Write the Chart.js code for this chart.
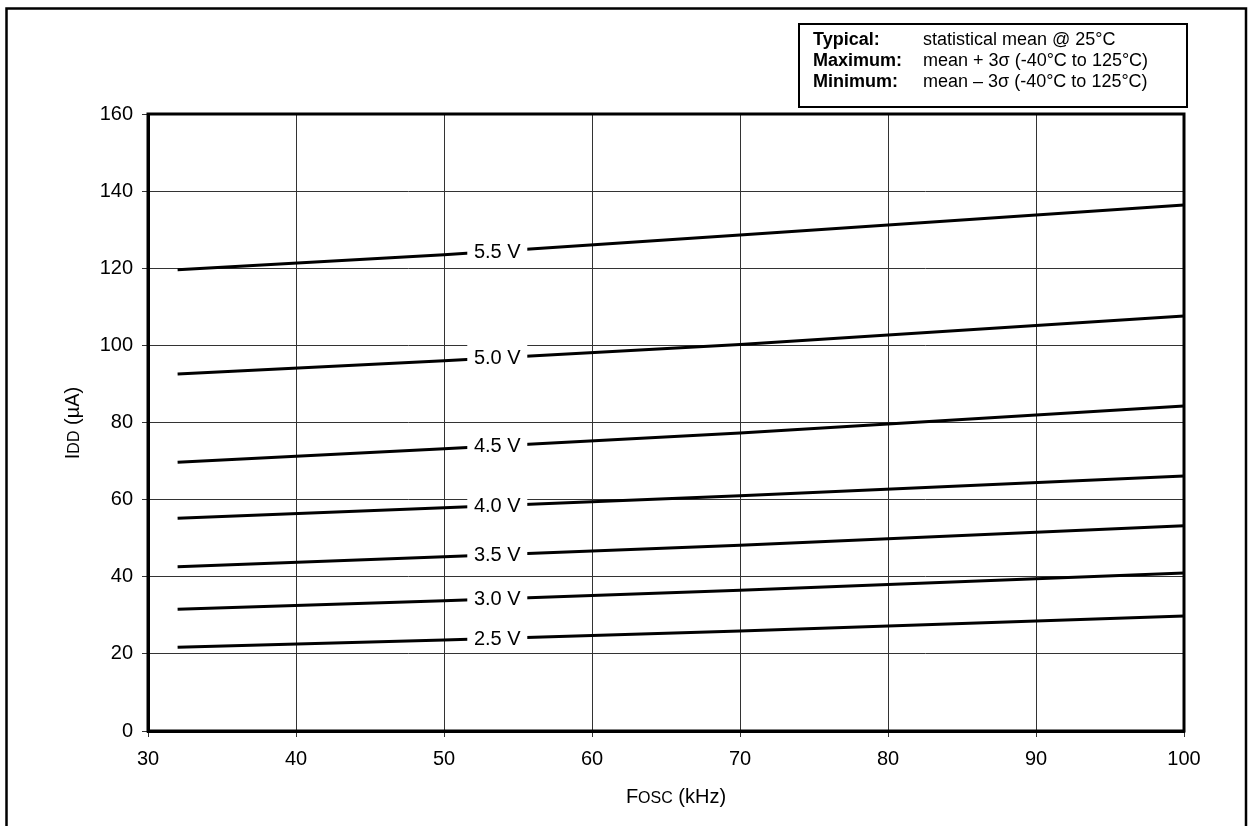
<!DOCTYPE html>
<html lang="en">
<head>
  <meta charset="UTF-8">
  <title>IDD vs FOSC</title>
  <script src="https://cdn.jsdelivr.net/npm/chart.js"></script>
  <style>
    body { margin: 0; background: #fff; }
    canvas { display: block; }
  </style>
</head>
<body>
  <canvas id="grafico" width="1249" height="826"></canvas>

  <script>
    // Data
    const freqs = [32, 50, 70, 100];
    const v55 = [119.6, 123.5, 128.6, 136.4];
    const v50 = [92.6, 96.0, 100.2, 107.6];
    const v45 = [69.7, 73.2, 77.3, 84.3];
    const v40 = [55.2, 57.9, 61.0, 66.1];
    const v35 = [42.6, 45.2, 48.2, 53.2];
    const v30 = [31.6, 33.8, 36.5, 41.0];
    const v25 = [21.7, 23.6, 25.9, 29.8];
    const seriesLabels = ['5.5 V', '5.0 V', '4.5 V', '4.0 V', '3.5 V', '3.0 V', '2.5 V'];
    const labelAt = 53.6; // kHz where the voltage labels sit

    const xTicks = [30, 40, 50, 60, 70, 80, 90, 100];
    const yTicks = [0, 20, 40, 60, 80, 100, 120, 140, 160];

    const legendRows = [
      ['Typical:', 'statistical mean @ 25°C'],
      ['Maximum:', 'mean + 3σ (-40°C to 125°C)'],
      ['Minimum:', 'mean – 3σ (-40°C to 125°C)']
    ];

    const FONT = '"Liberation Sans", Arial, sans-serif';
    const toPoints = (vals) => freqs.map((f, i) => ({ x: f, y: vals[i] }));

    const datasets = [v55, v50, v45, v40, v35, v30, v25].map((vals, i) => ({
      label: seriesLabels[i],
      data: toPoints(vals),
      borderColor: '#000',
      borderWidth: 3,
      pointRadius: 0,
      fill: false,
      tension: 0
    }));

    // frame around the page and around the plot area
    const framePlugin = {
      id: 'frame',
      afterDraw(chart) {
        const c = chart.ctx;
        const a = chart.chartArea;
        c.save();
        c.strokeStyle = '#000';
        c.lineWidth = 3;
        c.strokeRect(a.left, a.top, a.right - a.left, a.bottom - a.top);
        c.lineWidth = 2.5;
        c.strokeRect(6.5, 8.5, 1239.5, 840);
        c.restore();
      }
    };

    // voltage labels on white boxes cutting the lines
    const labelPlugin = {
      id: 'voltLabels',
      afterDatasetsDraw(chart) {
        const c = chart.ctx;
        const xs = chart.scales.x;
        const ys = chart.scales.y;
        c.save();
        chart.data.datasets.forEach(ds => {
          const pts = ds.data;
          let y = pts[0].y;
          for (let i = 0; i < pts.length - 1; i++) {
            if (labelAt >= pts[i].x && labelAt <= pts[i + 1].x) {
              const t = (labelAt - pts[i].x) / (pts[i + 1].x - pts[i].x);
              y = pts[i].y + t * (pts[i + 1].y - pts[i].y);
            }
          }
          const px = xs.getPixelForValue(labelAt);
          const py = ys.getPixelForValue(y);
          c.fillStyle = '#fff';
          c.fillRect(px - 30, py - 14, 60, 28);
          c.fillStyle = '#000';
          c.font = '20px ' + FONT;
          c.textAlign = 'center';
          c.textBaseline = 'middle';
          c.fillText(ds.label, px, py + 1);
        });
        c.restore();
      }
    };

    // draws text parts with different sizes (small caps subscripts)
    const drawParts = (c, parts) => {
      let total = 0;
      parts.forEach(p => { c.font = p[1] + 'px ' + FONT; total += c.measureText(p[0]).width; });
      let x = -total / 2;
      parts.forEach(p => {
        c.font = p[1] + 'px ' + FONT;
        c.fillText(p[0], x, 0);
        x += c.measureText(p[0]).width;
      });
    };

    const titlesPlugin = {
      id: 'titles',
      afterDraw(chart) {
        const c = chart.ctx;
        c.save();
        c.fillStyle = '#000';
        c.textAlign = 'left';
        c.textBaseline = 'alphabetic';
        // y title
        c.save();
        c.translate(79, 423);
        c.rotate(-Math.PI / 2);
        drawParts(c, [['I', 20], ['DD', 16], [' (µA)', 20]]);
        c.restore();
        // x title
        c.save();
        c.translate(676, 803);
        drawParts(c, [['F', 20], ['OSC', 16], [' (kHz)', 20]]);
        c.restore();

        // legend box
        c.fillStyle = '#fff';
        c.fillRect(799, 24, 388, 83);
        c.strokeStyle = '#000';
        c.lineWidth = 2;
        c.strokeRect(799, 24, 388, 83);
        c.fillStyle = '#000';
        legendRows.forEach((row, i) => {
          const by = 45 + i * 21;
          c.font = 'bold 18px ' + FONT;
          c.fillText(row[0], 813, by);
          c.font = '18px ' + FONT;
          c.fillText(row[1], 923, by);
        });
        c.restore();
      }
    };

    new Chart(document.getElementById('grafico'), {
      type: 'line',
      data: { datasets: datasets },
      plugins: [labelPlugin, framePlugin, titlesPlugin],
      options: {
        responsive: false,
        animation: false,
        devicePixelRatio: 1,
        layout: { padding: { top: 114, right: 65, bottom: 0, left: 0 } },
        plugins: {
          legend: { display: false },
          tooltip: { enabled: false }
        },
        scales: {
          x: {
            type: 'linear',
            min: 30,
            max: 100,
            afterBuildTicks: (s) => { s.ticks = xTicks.map(v => ({ value: v })); },
            afterFit: (s) => { s.height = 95; },
            ticks: { color: '#000', font: { size: 20, family: FONT }, padding: 10, maxRotation: 0 },
            grid: { color: '#333', lineWidth: 1, tickLength: 6, tickColor: '#333' },
            border: { color: '#000', width: 3 }
          },
          y: {
            min: 0,
            max: 160,
            afterBuildTicks: (s) => { s.ticks = yTicks.map(v => ({ value: v })); },
            afterFit: (s) => { s.width = 148; },
            ticks: { color: '#000', font: { size: 20, family: FONT }, padding: 9 },
            grid: { color: '#333', lineWidth: 1, tickLength: 6, tickColor: '#333' },
            border: { color: '#000', width: 3 }
          }
        }
      }
    });
  </script>
</body>
</html>
